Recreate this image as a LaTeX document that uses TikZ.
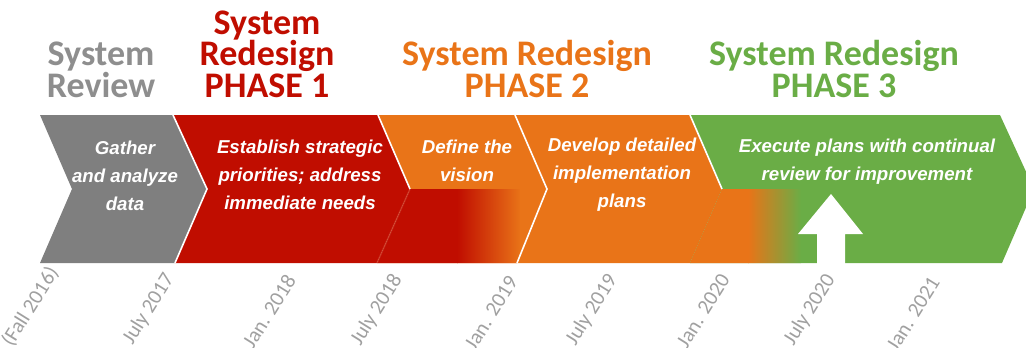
\documentclass[tikz,border=0pt]{standalone}
\usepackage{fontspec}
\setmainfont{Carlito}
\newfontfamily\arialfont{Liberation Sans}
\definecolor{cgray}{HTML}{7F7F7F}
\definecolor{tgray}{HTML}{8E8E8E}
\definecolor{cred}{HTML}{C00D00}
\definecolor{corange}{HTML}{E97418}
\definecolor{cgreen}{HTML}{6AAD46}
\definecolor{dategray}{HTML}{A0A0A0}
\begin{document}
\begin{tikzpicture}[x=0.75pt,y=-0.75pt,
  seam/.style={white, line width=1.2pt, line join=miter},
  % multi-line nodes: the base anchor sits on the last line
  title/.style={font=\bfseries\fontsize{27}{23.4}\selectfont, align=center, anchor=base, inner sep=0pt},
  chevtext/.style={font=\arialfont\bfseries\itshape\fontsize{14}{21}\selectfont, text=white, align=center, anchor=base, inner sep=0pt},
  datelbl/.style={font=\fontsize{15.75}{18}\selectfont, text=dategray, rotate=58, anchor=east, inner sep=0pt}]
\useasboundingbox (0,0) rectangle (1026,347);
\clip (0,0) rectangle (1026,347);

% chevron band: top 115, middle 189, bottom 263
\fill[cgray]   (40,115) -- (173,115) -- (207,189) -- (175,263) -- (40,263) -- (72,189) -- cycle;
\fill[cred]    (173,115) -- (378,115) -- (410,189) -- (377,263) -- (175,263) -- (207,189) -- cycle;
\fill[corange] (378,115) -- (515,115) -- (547,189) -- (517,263) -- (377,263) -- (410,189) -- cycle;
\fill[corange] (515,115) -- (690,115) -- (722,189) -- (690,263) -- (517,263) -- (547,189) -- cycle;
\fill[cgreen]  (690,115) -- (1000,115) -- (1034,189) -- (1002,263) -- (690,263) -- (722,189) -- cycle;

% phase 1 work carried on below "Define the vision"
\begin{scope}
  \clip (410,189) -- (547,189) -- (517,263) -- (377,263) -- cycle;
  \fill[cred] (370,185) rectangle (458,270);
  \shade[left color=cred, right color=corange] (457,185) rectangle (521,270);
  \fill[corange] (520,185) rectangle (560,270);
\end{scope}

% phase 2 work carried on into phase 3
\begin{scope}
  \clip (722,189) -- (1040,189) -- (1002,263) -- (690,263) -- cycle;
  \fill[corange] (680,185) rectangle (749,270);
  \shade[left color=corange, right color=cgreen] (748,185) rectangle (801,270);
\end{scope}

% white seams between the chevrons
\draw[seam] (173,115) -- (207,189) -- (175,263);
\draw[seam] (378,115) -- (410,189);
\draw[seam, opacity=0.12] (410,189) -- (377,263);
\draw[seam] (515,115) -- (547,189) -- (517,263);
\draw[seam] (690,115) -- (722,189);

% review arrow
\fill[white] (831,194) -- (863,234) -- (845,234) -- (845,265) -- (817,265) -- (817,234) -- (798,234) -- cycle;

% phase titles
\node[title, text=tgray]   (trev) at (101,97) {System\\Review};
\node[title, text=cred]    (tp1)  at (267,97) {System\\Redesign\\PHASE 1};
\node[title, text=corange] (tp2)  at (527,97) {System Redesign\\PHASE 2};
\node[title, text=cgreen]  (tp3)  at (834,97) {System Redesign\\PHASE 3};

% chevron texts
\node[chevtext] (c1) at (125,210) {Gather\\and analyze\\data};
\node[chevtext] (c2) at (300,209) {Establish strategic\\priorities; address\\immediate needs};
\node[chevtext] (c3) at (467,181) {Define the\\vision};
\node[chevtext] (c4) at (622,207) {Develop detailed\\implementation\\plans};
\node[chevtext] (c5) at (867,180) {Execute plans with continual\\review for improvement};

% dates
\node[datelbl] (d0) at (54,269)  {(Fall 2016)};
\node[datelbl] (d1) at (170,275) {July 2017};
\node[datelbl] (d2) at (291,276) {Jan. 2018};
\node[datelbl] (d3) at (398,276) {July 2018};
\node[datelbl] (d4) at (513,278) {Jan. 2019};
\node[datelbl] (d5) at (613,276) {July 2019};
\node[datelbl] (d6) at (725,276) {Jan. 2020};
\node[datelbl] (d7) at (831,276) {July 2020};
\node[datelbl] (d8) at (935,279) {Jan. 2021};
\end{tikzpicture}
\end{document}
